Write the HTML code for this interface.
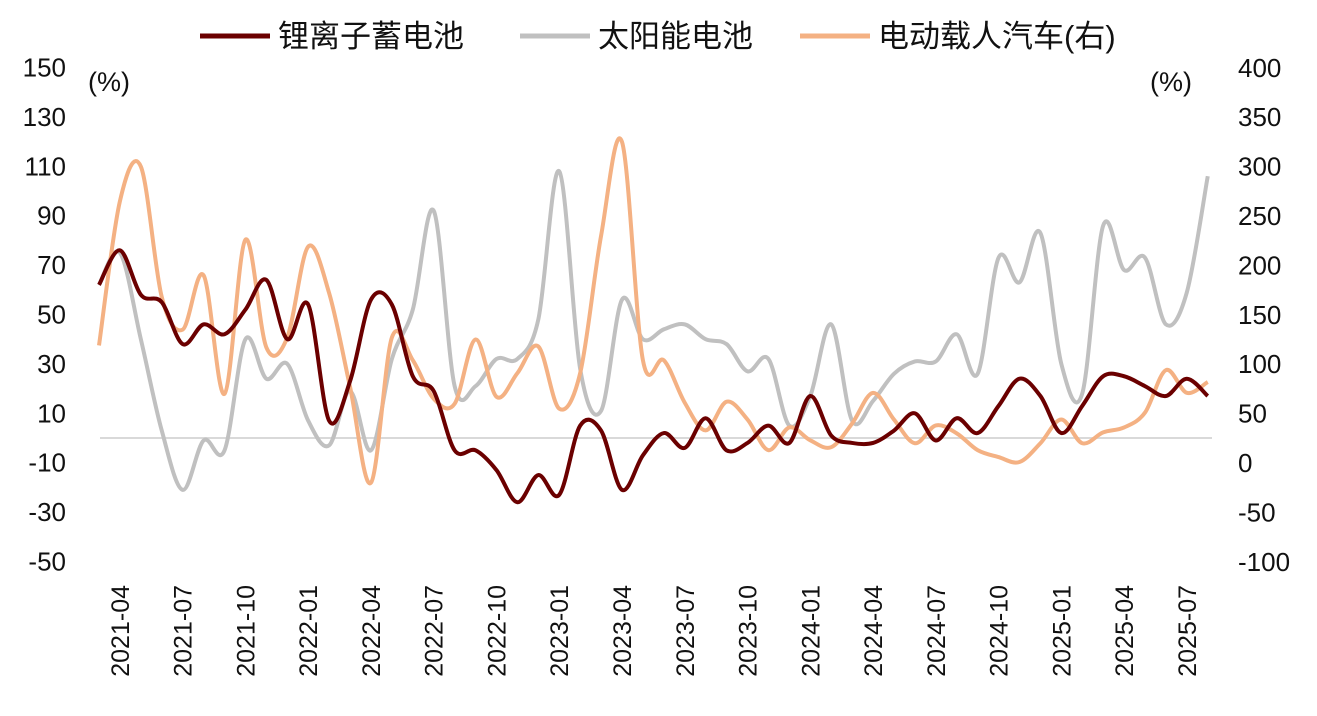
<!DOCTYPE html>
<html><head><meta charset="utf-8"><style>
body{margin:0;background:#fff;}
svg text{font-family:"Liberation Sans","Noto Sans CJK SC",sans-serif;fill:#111;}
</style></head><body>
<svg id="chart" width="1317" height="711" viewBox="0 0 1317 711" xmlns="http://www.w3.org/2000/svg">
<g>
 <g><line x1="200" y1="36" x2="270" y2="36" stroke="#6b0000" stroke-width="5"/><text x="278" y="47" font-size="31">锂离子蓄电池</text></g>
 <g><line x1="520" y1="36" x2="590" y2="36" stroke="#c0c0c0" stroke-width="5"/><text x="598" y="47" font-size="31">太阳能电池</text></g>
 <g><line x1="800" y1="36" x2="870" y2="36" stroke="#f4b183" stroke-width="5"/><text x="878" y="47" font-size="31">电动载人汽车(右)</text></g>
</g>
<text x="88" y="91" font-size="27">(%)</text>
<text x="1150" y="91" font-size="27">(%)</text>
<g id="leftTicks"></g>
<g id="rightTicks"></g>
<g id="xTicks"></g>
<line x1="100" y1="438" x2="1212" y2="438" stroke="#d9d9d9" stroke-width="2"/>
<g id="series"></g>
</svg>
<script>
const startYear = 2021, startMonth = 3;
const lithium = [62,76,58,55,38,46,42,52,64,40,54,7,23,56,54,25,19,-5,-5,-13,-26,-15,-23,5,3,-21,-7,2,-4,8,-5,-2,5,-2,17,1,-2,-2,3,10,-1,8,2,13,24,17,2,13,25,25,21,17,24,17];
const solar = [62,75,40,3,-21,-1,-5,40,24,30,7,-3,19,-5,32,52,92,21,21,32,32,48,108,28,11,56,40,44,46,40,38,27,32,5,17,46,7,15,26,31,31,42,26,73,63,83,30,18,86,68,73,46,59,106];
const ev = [119,265,300,168,135,190,70,226,117,127,219,172,77,-20,127,104,65,60,125,67,91,118,55,91,230,325,104,104,61,33,62,44,13,36,23,16,40,71,44,20,38,30,13,6,1,20,44,20,31,36,51,94,71,82];
const leftTickVals = [150,130,110,90,70,50,30,10,-10,-30,-50];
const rightTickVals = [400,350,300,250,200,150,100,50,0,-50,-100];

const NS="http://www.w3.org/2000/svg";
const yL = v => 438 - v*2.47;
const yR = v => 463 - v*0.988;
const xM = i => 99 + 20.92*i;
function el(t,a,p){const e=document.createElementNS(NS,t);for(const k in a)e.setAttribute(k,a[k]);p.appendChild(e);return e;}

const lt=document.getElementById('leftTicks');
leftTickVals.forEach(v=>{const t=el('text',{x:66,y:yL(v)+9,'font-size':26,'text-anchor':'end'},lt);t.textContent=v;

});
const rt=document.getElementById('rightTicks');
rightTickVals.forEach(v=>{const t=el('text',{x:1238,y:yR(v)+9,'font-size':26},rt);t.textContent=v;

});
const xt=document.getElementById('xTicks');
for(let i=1;i<lithium.length;i+=3){
 const m=startMonth-1+i, y=startYear+Math.floor(m/12), mm=(m%12)+1;
 const lab=y+'-'+(mm<10?'0'+mm:mm);
 const x=xM(i);
 const t=el('text',{x:0,y:0,'font-size':25,'text-anchor':'end',transform:`translate(${x+9},585) rotate(-90)`},xt);
 t.textContent=lab;
 
 
}
function path(vals,fy){
 const p=vals.map((v,i)=>[xM(i),fy(v)]);
 let d=`M${p[0][0]},${p[0][1]}`;
 for(let i=0;i<p.length-1;i++){
  const p0=p[i-1]||p[i],p1=p[i],p2=p[i+1],p3=p[i+2]||p2;
  const c1=[p1[0]+(p2[0]-p0[0])/6,p1[1]+(p2[1]-p0[1])/6];
  const c2=[p2[0]-(p3[0]-p1[0])/6,p2[1]-(p3[1]-p1[1])/6];
  d+=` C${c1[0]},${c1[1]} ${c2[0]},${c2[1]} ${p2[0]},${p2[1]}`;
 }
 return d;
}
const sg=document.getElementById('series');
const s1=el('path',{d:path(solar,yL),fill:'none',stroke:'#c0c0c0','stroke-width':4},sg);


const s2=el('path',{d:path(ev,yR),fill:'none',stroke:'#f4b183','stroke-width':4},sg);


const s3=el('path',{d:path(lithium,yL),fill:'none',stroke:'#6b0000','stroke-width':4},sg);


</script>
</body></html>
